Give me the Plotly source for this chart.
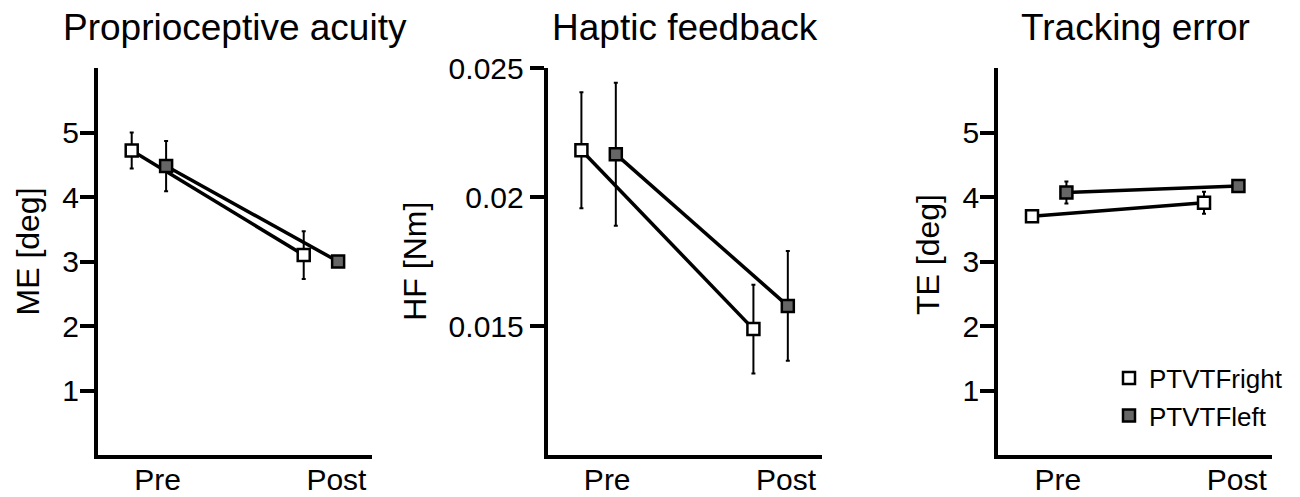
import plotly.graph_objects as go

# ---- data ----
categories = ["Pre", "Post"]
series_names = ["PTVTFright", "PTVTFleft"]

me_right = [4.72, 3.10]
me_right_err = [0.28, 0.37]
me_left = [4.48, 3.00]
me_left_err = [0.39, 0.05]

hf_right = [0.02181, 0.01488]
hf_right_err = [0.00225, 0.00172]
hf_left = [0.02166, 0.01578]
hf_left_err = [0.00277, 0.00213]

te_right = [3.70, 3.91]
te_right_err = [0.05, 0.17]
te_left = [4.07, 4.17]
te_left_err = [0.17, 0.05]

titles = ["Proprioceptive acuity", "Haptic feedback", "Tracking error"]
ytitles = ["ME [deg]", "HF [Nm]", "TE [deg]"]

# ---- layout constants ----
W, H = 1300, 497
FONT = "Liberation Sans, Arial, sans-serif"
cat_pos = [1.0, 2.0]
offsets = [0.0, 0.2]
label_pos = [1.15, 2.19]
fills = ["white", "#666666"]

x_doms = [(98 / W, 372 / W), (547.7 / W, 821.7 / W), (998.3 / W, 1272.3 / W)]
y_dom = ((H - 455) / H, (H - 68) / H)

panels = [
    ((me_right, me_right_err), (me_left, me_left_err)),
    ((hf_right, hf_right_err), (hf_left, hf_left_err)),
    ((te_right, te_right_err), (te_left, te_left_err)),
]

fig = go.Figure()
for p, series in enumerate(panels):
    xa = "x" if p == 0 else f"x{p+1}"
    ya = "y" if p == 0 else f"y{p+1}"
    for s, (vals, errs) in enumerate(series):
        fig.add_trace(go.Scatter(
            x=[c + offsets[s] for c in cat_pos], y=vals,
            mode="lines+markers",
            line=dict(color="black", width=3.5),
            marker=dict(symbol="square", size=12, color=fills[s],
                        line=dict(color="black", width=2.5)),
            error_y=dict(type="data", array=errs, visible=True,
                         color="black", thickness=2, width=2),
            xaxis=xa, yaxis=ya, showlegend=False, name=series_names[s],
        ))

# legend-only traces (marker symbols only), one legend box per entry
legend_ids = ["legend", "legend2"]
for s in range(2):
    fig.add_trace(go.Scatter(
        x=[None], y=[None], mode="markers", name=series_names[s],
        marker=dict(symbol="square", size=12, color=fills[s],
                    line=dict(color="black", width=2.5)),
        xaxis="x3", yaxis="y3", showlegend=True, legend=legend_ids[s],
    ))

axis_common = dict(showline=True, linecolor="black", linewidth=4,
                   showgrid=False, zeroline=False, automargin=False)
leg_common = dict(xanchor="left", yanchor="middle",
                  font=dict(size=26, family=FONT), bgcolor="rgba(0,0,0,0)",
                  borderwidth=0)
leg_rows = [378, 415.7]
layout = dict(
    width=W, height=H,
    margin=dict(l=0, r=0, t=0, b=0, pad=0),
    plot_bgcolor="white", paper_bgcolor="white",
    font=dict(family=FONT, color="black"),
    showlegend=True,
    legend=dict(leg_common, x=1109 / W, y=1 - leg_rows[0] / H),
    legend2=dict(leg_common, x=1109 / W, y=1 - leg_rows[1] / H),
)
for p in range(3):
    kx = "xaxis" if p == 0 else f"xaxis{p+1}"
    ky = "yaxis" if p == 0 else f"yaxis{p+1}"
    layout[kx] = dict(axis_common, domain=list(x_doms[p]), range=[0.804, 2.397],
                      anchor="y" if p == 0 else f"y{p+1}",
                      tickvals=label_pos, ticktext=categories, ticks="",
                      tickfont=dict(size=30), ticklabelstandoff=-5)
    if p == 1:
        yextra = dict(range=[0.010, 0.025], tickvals=[0.015, 0.02, 0.025],
                      ticktext=["0.015", "0.02", "0.025"], ticklabelstandoff=0)
    else:
        yextra = dict(range=[0, 6], tickvals=[1, 2, 3, 4, 5],
                      ticklabelstandoff=-5)
    layout[ky] = dict(axis_common, domain=list(y_dom),
                      anchor="x" if p == 0 else f"x{p+1}",
                      ticks="outside", ticklen=14, tickwidth=3.5,
                      tickcolor="black", tickfont=dict(size=30), **yextra)
fig.update_layout(**layout)

# panel titles
for p in range(3):
    fig.add_annotation(text=titles[p], xref="paper", yref="paper",
                       x=(x_doms[p][0] + x_doms[p][1]) / 2, y=1 - 27.5 / H,
                       xanchor="center", yanchor="middle", showarrow=False,
                       font=dict(size=37, family=FONT, color="black"))

# y axis titles
ytitle_x = [27.5, 414.8, 928]
ytitle_y = [252, 261, 254]
for p in range(3):
    fig.add_annotation(text=ytitles[p], xref="paper", yref="paper",
                       x=ytitle_x[p] / W, y=1 - ytitle_y[p] / H,
                       xanchor="center", yanchor="middle", showarrow=False,
                       textangle=-90,
                       font=dict(size=32, family=FONT, color="black"))

fig.write_html("out.html", config={"displayModeBar": False},
               post_script="document.body.style.margin='0';")
